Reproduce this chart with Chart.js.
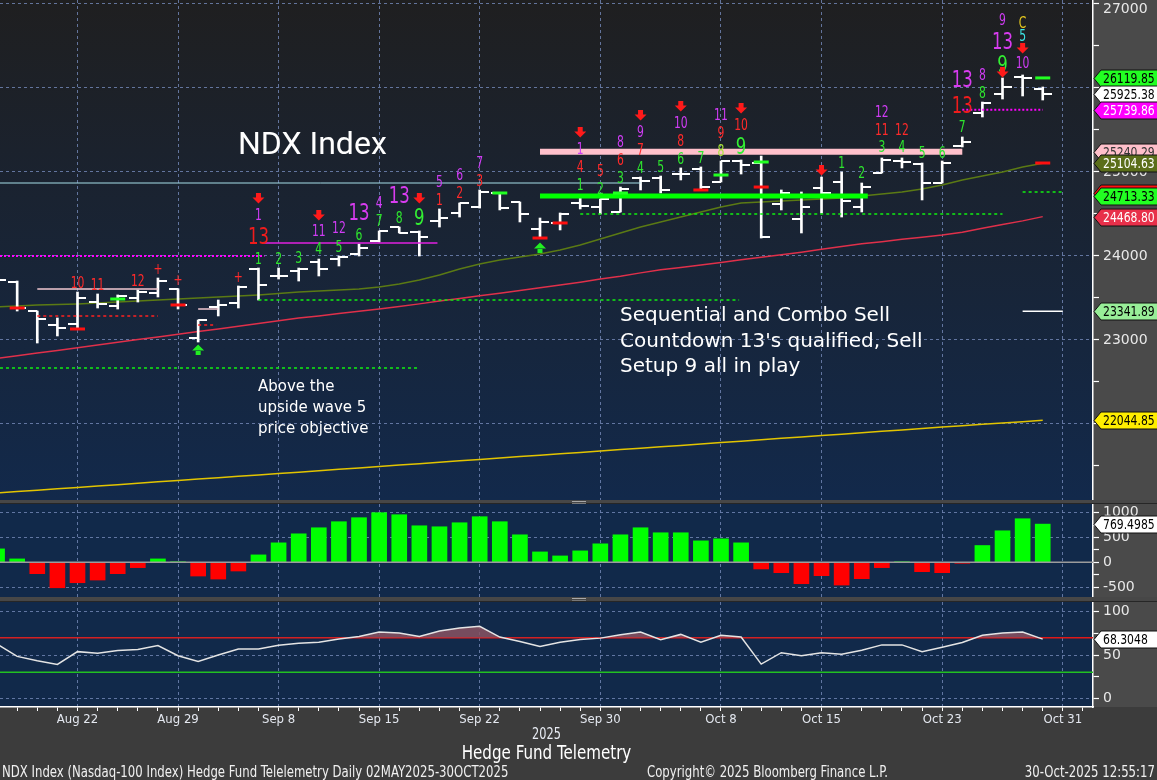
<!DOCTYPE html>
<html><head><meta charset="utf-8">
<script src="https://cdn.jsdelivr.net/npm/chart.js@4.4.1/dist/chart.umd.min.js"></script>
<style>
html,body{margin:0;padding:0;background:#3c3c3c;width:1157px;height:780px;overflow:hidden;font-family:'DejaVu Sans',sans-serif;}
.wrap{position:absolute;left:0;width:1157px;overflow:hidden;}
.wrap canvas{position:absolute;left:0;}
.sep{position:absolute;left:0;width:1157px;background:#474747;border-bottom:1px solid #262626;box-sizing:border-box;}
.handle{position:absolute;left:572px;width:14px;height:1px;background:#a8a8a8;}
.ann{position:absolute;color:#fff;white-space:nowrap;}
.narrow{font-family:'DejaVu Sans Condensed',sans-serif;position:absolute;white-space:nowrap;}
</style></head><body>

<div class="wrap" id="wA" style="top:0;height:500px;"><canvas id="cA" width="1157" height="540" style="top:-20px"></canvas>
  <div class="ann" style="left:238px;top:127px;font-family:Roboto,sans-serif;font-size:32px;line-height:32px;">NDX Index</div>
  <div class="ann" style="left:620px;top:302px;font-size:20px;line-height:25.5px;">Sequential and Combo Sell<br>Countdown 13's qualified, Sell<br>Setup 9 all in play</div>
  <div class="ann" style="left:258px;top:376px;font-size:15px;line-height:21px;">Above the<br>upside wave 5<br>price objective</div>
</div>
<div class="sep" style="top:500px;height:4px;"><div class="handle" style="top:1px"></div><div class="handle" style="top:3px;background:#777"></div></div>
<div class="wrap" id="wB" style="top:504px;height:93px;"><canvas id="cB" width="1157" height="133" style="top:-20px"></canvas></div>
<div class="sep" style="top:597px;height:5px;"><div class="handle" style="top:1px"></div><div class="handle" style="top:3px;background:#777"></div></div>
<div class="wrap" id="wC" style="top:602px;height:178px;"><canvas id="cC" width="1157" height="198" style="top:-20px"></canvas></div>

<div class="narrow" style="left:0;width:1093px;text-align:center;top:725px;font-size:15px;color:#e8ecf4;transform:scaleX(0.84);">2025</div>
<div class="narrow" style="left:0;width:1093px;text-align:center;top:740px;font-size:20px;color:#ffffff;transform:scaleX(0.84);">Hedge Fund Telemetry</div>
<div class="narrow" style="left:2px;top:763px;font-size:15px;color:#f0f0f0;transform:scaleX(0.868);transform-origin:0 0;">NDX Index (Nasdaq-100 Index) Hedge Fund Telelemetry Daily 02MAY2025-30OCT2025</div>
<div class="narrow" style="left:647px;top:763px;font-size:15px;color:#f0f0f0;transform:scaleX(0.868);transform-origin:0 0;">Copyright© 2025 Bloomberg Finance L.P.</div>
<div class="narrow" style="right:2px;top:763px;font-size:15px;color:#f0f0f0;transform:scaleX(0.868);transform-origin:100% 0;">30-Oct-2025 12:55:17</div>

<script>
// ---------------- DATA ----------------
const dates = ['Aug 18','Aug 19','Aug 20','Aug 21','Aug 22','Aug 25','Aug 26','Aug 27','Aug 28','Aug 29',
 'Sep 2','Sep 3','Sep 4','Sep 5','Sep 8','Sep 9','Sep 10','Sep 11','Sep 12','Sep 15',
 'Sep 16','Sep 17','Sep 18','Sep 19','Sep 22','Sep 23','Sep 24','Sep 25','Sep 26','Sep 29',
 'Sep 30','Oct 1','Oct 2','Oct 3','Oct 6','Oct 7','Oct 8','Oct 9','Oct 10','Oct 13',
 'Oct 14','Oct 15','Oct 16','Oct 17','Oct 20','Oct 21','Oct 22','Oct 23','Oct 24','Oct 27',
 'Oct 28','Oct 29','Oct 30'];
const open = [23700,23690,23345,23178,23190,23452,23405,23500,23560,23610,
 23024,23393,23440,23845,23762,23821,23929,23964,24024,24179,
 24345,24286,24417,24512,24583,24750,24643,24321,24393,24631,
 24583,24524,24929,24929,24976,25036,24881,25131,25107,24619,
 24440,24810,24881,24583,24988,25131,25095,24869,25310,25702,
 25929,26131,25988];
const high = [23760,23702,23345,23262,23571,23548,23536,23595,23738,23610,
 23238,23476,23643,23857,23857,23857,23964,24000,24143,24298,
 24345,24298,24560,24631,24786,24750,24643,24452,24512,24690,
 24679,24821,24940,24952,25048,25060,25131,25143,25190,24786,
 24762,24940,25000,24869,25167,25167,25107,25131,25417,25833,
 26119,26155,26012];
const low = [23650,23345,22964,23048,23131,23381,23369,23452,23512,23369,
 22976,23286,23381,23476,23726,23702,23762,23881,24000,24167,
 24274,24000,24345,24464,24571,24548,24405,24226,24310,24560,
 24500,24524,24786,24750,24905,24786,24881,24976,24214,24548,
 24274,24512,24464,24524,24988,25048,24667,24869,25298,25655,
 25869,25905,25857];
const close = [23714,23381,23250,23143,23500,23429,23524,23571,23702,23417,
 23238,23417,23631,23655,23762,23845,23845,23988,24095,24298,
 24274,24226,24452,24631,24762,24571,24500,24405,24500,24595,
 24679,24798,24893,24786,24976,24821,25131,25083,24226,24750,
 24583,24750,24655,24821,25143,25119,24869,25107,25357,25821,
 26012,26119,25925.38];
const ma20 = [23393,23405,23417,23423,23429,23440,23452,23464,23476,23488,
 23500,23512,23524,23536,23553,23571,23583,23595,23607,23631,
 23667,23714,23774,23845,23905,23952,23988,24024,24071,24131,
 24202,24274,24345,24405,24464,24524,24583,24631,24643,24655,
 24667,24678,24690,24714,24738,24762,24798,24845,24905,24952,
 25000,25060,25104.63];
const ma50 = [22781,22813,22844,22876,22908,22940,22973,23005,23036,23068,
 23100,23131,23163,23196,23229,23261,23286,23315,23342,23368,
 23399,23430,23463,23494,23526,23557,23588,23621,23655,23688,
 23726,23759,23799,23836,23864,23894,23923,23954,23984,24015,
 24045,24079,24113,24145,24171,24198,24224,24251,24284,24329,
 24374,24418,24468.80];
const ma200 = [21179,21195,21211,21228,21244,21261,21277,21294,21311,21327,
 21344,21360,21377,21394,21410,21427,21444,21460,21477,21494,
 21511,21528,21545,21562,21578,21595,21612,21629,21645,21662,
 21679,21695,21712,21729,21745,21762,21779,21795,21812,21829,
 21846,21862,21879,21896,21913,21930,21946,21963,21979,21996,
 22012,22028,22044.85];
const hist = [270,68,-230,-514,-412,-358,-230,-108,68,10,
 -277,-338,-176,149,392,574,696,818,899,1000,
 959,736,716,797,919,818,554,209,128,230,
 372,554,696,595,595,432,473,392,-135,-209,
 -432,-270,-459,-331,-108,10,-189,-209,-20,338,
 635,878,769.4985];
const rsi = [62.5,48.4,43.4,39.1,53.9,52.0,55.1,56.3,60.9,49.2,
 42.6,50.0,57.0,57.0,61.3,63.7,64.8,68.4,71.5,76.6,
 75.4,71.5,77.7,81.3,83.2,70.7,65.6,59.8,64.8,68.0,
 69.5,73.4,76.6,67.6,73.8,64.8,72.7,70.7,39.5,52.7,
 49.2,52.7,50.8,55.5,61.7,61.7,53.9,59.0,64.5,72.7,
 75.4,76.6,68.3048];
const xTickIdx = [4,9,14,19,24,30,36,41,47,53];
const xTickLabels = ['Aug 22','Aug 29','Sep 8','Sep 15','Sep 22','Sep 30','Oct 8','Oct 15','Oct 23','Oct 31'];
const priceTicks = [21500,22000,22500,23000,23500,24000,24500,25000,25500,26000,26500,27000];
const histTicks = [-500,-250,0,250,500,750,1000];
const rsiTicks = [0,25,50,75,100];
// level lines [from index, to index, value]
const levelSpans = [[0.146,32,24869],[0.146,13.3,24000],[13.2,21.9,24155],[0.146,20.9,22667],[13,36.9,23476],
 [2,8,23286],[2,8,23607],[10,11,23369],[10,10.9,23179],[29,50,24500],[51,53,24762],[48,52,25739.86],
 [51,53,23341.89],[27,48,25240.29],[27,43.3,24713.33]];
const levelKinds = ['cyan','magDot','mag','grnDot','grnDot','redDot','pink','pink','redDot','grnDot','grnDot','magDot','white','pinkThick','grnThick'];
const redMarks = [[1,23381],[4,23131],[9,23417],[27,24214],[28,24393],[35,24786],[38,24821],[52,25107]];
const greenMarks = [[6,23488],[25,24750],[31,24750],[36,24964],[38,25119],[52,26119.85]];
const sellArrows = [[13,24690],[16,24488],[21,24690],[29,25476],[32,25679],[34,25786],[37,25762],[41,25024],[51,26476]];
const buyArrows = [[10,22881],[27,24095]];
const lateArrows = [[50,26190]];
// TD counts [index, level, text, kind]
const counts = [
 [4,23678,'10','r'],[5,23655,'11','r'],[7,23702,'12','r'],[8,23845,'+','r'],[9,23714,'+','r'],[12,23750,'+','r'],
 [13,24488,'1','m'],[13,24226,'13','R'],[13,23964,'1','g'],[14,23964,'2','g'],[15,23976,'3','g'],
 [16,24298,'11','m'],[16,24083,'4','g'],[17,24333,'12','m'],[17,24107,'5','g'],
 [18,24512,'13','M'],[18,24250,'6','g'],[19,24631,'4','m'],[19,24417,'7','g'],
 [20,24714,'13','M'],[20,24452,'8','g'],[21,24452,'9','G'],
 [22,24881,'5','m'],[22,24667,'1','r'],[23,24964,'6','m'],[23,24750,'2','r'],[24,25107,'7','m'],[24,24893,'3','r'],
 [29,25274,'1','m'],[29,25059,'4','r'],[29,24845,'1','g'],[30,25012,'5','r'],[30,24798,'2','g'],
 [31,25357,'8','m'],[31,25143,'6','r'],[31,24929,'3','g'],[32,25476,'9','m'],[32,25262,'7','r'],[32,25048,'4','g'],
 [33,25059,'5','g'],[34,25583,'10','m'],[34,25369,'8','r'],[34,25155,'6','g'],[35,25167,'7','g'],
 [36,25679,'11','m'],[36,25464,'9','r'],[36,25250,'8','y'],[37,25560,'10','r'],[37,25298,'9','G'],
 [42,25107,'1','g'],[43,24988,'2','g'],[44,25714,'12','m'],[44,25500,'11','r'],[44,25298,'3','g'],
 [45,25500,'12','r'],[45,25298,'4','g'],[46,25226,'5','g'],[47,25226,'6','g'],
 [48,25536,'7','g'],[48,26095,'13','M'],[48,25786,'13','R'],[49,26155,'8','m'],[49,25940,'8','g'],
 [50,26810,'9','m'],[50,26548,'13','M'],[50,26274,'9','G'],
 [51,26774,'C','o'],[51,26619,'5','c'],[51,26298,'10','m']];
const mainTags = [26119.85,25925.38,25739.86,25240.29,25104.63,24752,24713.33,24468.80,23341.89,22044.85];
const mainTagText = ['26119.85','25925.38','25739.86','25240.29','25104.63','','24713.33','24468.80','23341.89','22044.85'];

// ---------------- STYLE ----------------
const X_MIN = 0.146, X_MAX = 54.5;
const GRID = 'rgba(112,132,178,0.85)';
const NONE = 'rgba(0,0,0,0)';
const AXIS_BG = '#4a4a4a', BOTTOM_BG = '#3c3c3c';
const COND = "'DejaVu Sans Condensed','DejaVu Sans',sans-serif";
Chart.defaults.font.family = "'DejaVu Sans', sans-serif";
Chart.defaults.animation = false;
const tagStyles = [['#22ff22','#000'],['#ffffff','#000'],['#ff00ff','#fff'],['#ffc0cb','#333'],['#5b6e1a','#fff'],
 ['#ff1010','#fff'],['#22ff22','#000'],['#e8304a','#fff'],['#98ee98','#000'],['#ffee00','#000']];
const levelStyle = {
 cyan:{c:'#a6dfe8',w:1,d:[]}, magDot:{c:'#ff00ff',w:2,d:[2,2]}, mag:{c:'#e020e0',w:1.5,d:[]},
 grnDot:{c:'#10f010',w:1.5,d:[3,3]}, redDot:{c:'#ff2020',w:1.5,d:[3,3]}, pink:{c:'#f2c8d2',w:1.5,d:[]},
 white:{c:'#ffffff',w:1.5,d:[]}, pinkThick:{c:'#ffc0cb',w:6,d:[]}, grnThick:{c:'#00ff00',w:5,d:[]}};
const countStyle = {r:['#ff2a2a',15],R:['#f01c1c',23],g:['#2ee62e',15],G:['#33f033',23],m:['#d03cf5',15],
 M:['#d83cf0',23],y:['#a8e636',15],o:['#e6c81e',15],c:['#3ce6e6',15]};

function tickImg(side){ const c=document.createElement('canvas'); c.width=18; c.height=2; const g=c.getContext('2d');
 g.fillStyle='#ffffff'; g.fillRect(side==='L'?0:9,0,9,2); return c; }
const openImg = tickImg('L'), closeImg = tickImg('R');

function narrowText(ctx, t, x, y, sx){ ctx.save(); ctx.translate(x,y); ctx.scale(sx,1); ctx.fillText(t,0,0); ctx.restore(); }

function bgPlugin(grad, bottomFill){ return { id:'bg', beforeDraw(ch){ const {ctx,chartArea:a,width,height}=ch; ctx.save();
 ctx.fillStyle=AXIS_BG; ctx.fillRect(0,0,width,height);
 if(bottomFill){ ctx.fillStyle=BOTTOM_BG; ctx.fillRect(0,a.bottom,width,height-a.bottom); }
 let f=grad[0]; if(grad.length>1){ f=ctx.createLinearGradient(0,a.top,0,a.bottom); f.addColorStop(0,grad[0]); f.addColorStop(1,grad[1]); }
 ctx.fillStyle=f; ctx.fillRect(a.left,a.top,a.right-a.left,a.bottom-a.top); ctx.restore(); } }; }

function tagPlugin(vals, texts, styles){ return { id:'tags', afterDraw(ch){ const ctx=ch.ctx, y=ch.scales.y, x0=ch.chartArea.right, W=ch.width;
 ctx.save(); ctx.font='14px '+COND; ctx.textBaseline='middle'; ctx.textAlign='left'; ctx.lineWidth=1;
 vals.forEach((v,k)=>{ const py=Math.round(y.getPixelForValue(v))+0.5;
  ctx.beginPath(); ctx.moveTo(x0+1,py); ctx.lineTo(x0+8,py-8.5); ctx.lineTo(W+2,py-8.5); ctx.lineTo(W+2,py+8.5); ctx.lineTo(x0+8,py+8.5); ctx.closePath();
  ctx.fillStyle=styles[k][0]; ctx.fill(); ctx.strokeStyle='#111'; ctx.stroke();
  ctx.fillStyle=styles[k][1]; narrowText(ctx, texts[k], x0+10, py+1, 0.86); });
 ctx.restore(); } }; }

function arrow(ctx,x,y,dir,col){ ctx.fillStyle=col; ctx.beginPath();
 if(dir>0){ ctx.rect(x-2.5,y-5,5,5); ctx.moveTo(x-6,y-0.5); ctx.lineTo(x+6,y-0.5); ctx.lineTo(x,y+5.5); }
 else { ctx.rect(x-2.5,y,5,5); ctx.moveTo(x-6,y+0.5); ctx.lineTo(x+6,y+0.5); ctx.lineTo(x,y-5.5); }
 ctx.fill(); }

const countPlugin = { id:'counts', afterDatasetsDraw(ch){ const {ctx,scales:{x,y}}=ch; ctx.save();
 ctx.textAlign='center'; ctx.textBaseline='middle';
 sellArrows.forEach(([i,v])=>arrow(ctx,x.getPixelForValue(i),y.getPixelForValue(v),1,'#ff1a1a'));
 buyArrows.forEach(([i,v])=>arrow(ctx,x.getPixelForValue(i),y.getPixelForValue(v),-1,'#22ee22'));
 counts.forEach(([i,v,t,k])=>{ const s=countStyle[k]; ctx.font=s[1]+'px '+COND; ctx.fillStyle=s[0];
  narrowText(ctx, t, x.getPixelForValue(i), y.getPixelForValue(v)+1, 0.8); });
 lateArrows.forEach(([i,v])=>arrow(ctx,x.getPixelForValue(i),y.getPixelForValue(v),1,'#ff1a1a'));
 ctx.restore(); } };

const tv = c => (c && c.tick) ? c.tick.value : NaN;

function xScale(labels){ return { type:'linear', min:X_MIN, max:X_MAX, display:true, position:'bottom', offset:false,
 afterBuildTicks:s=>{ s.ticks = labels ? dates.map((d,i)=>({value:i})).filter(t=>t.value>0).concat([{value:53},{value:54}]) : xTickIdx.map(v=>({value:v})); },
 ticks: labels ? {autoSkip:false,maxRotation:0,minRotation:0,padding:1,color:'#e4e8f0',font:{family:COND,size:13},
   callback:v=>{ const k=xTickIdx.indexOf(v); return k>=0?xTickLabels[k]:''; }} : {display:false},
 grid:{offset:false, color:c=>xTickIdx.includes(tv(c))?GRID:NONE, lineWidth:1, drawTicks:!!labels, tickLength:4, tickColor:'#ffffff', tickWidth:1},
 border: labels ? {display:true,color:'#ffffff',width:1.5,dash:[3,3]} : {display:false,dash:[3,3]},
 afterFit:s=>{ s.height = labels ? 73 : 0; } }; }

function yScale(min,max,tickVals,isMajor,isGrid,topVal){ return { position:'right', min, max, offset:false,
 afterBuildTicks:s=>{ s.ticks = tickVals.map(v=>({value:v})); },
 ticks:{color:'#e8e8e8',font:{size:14,lineHeight:0.7},padding:4,
   callback:v=>isMajor(v)?(v===topVal?['',String(v)]:String(v)):''},
 grid:{offset:false, color:c=>isGrid(tv(c))?GRID:NONE, drawTicks:true, tickLength:6, tickColor:'#ffffff', tickWidth:1.2},
 border:{color:'#ffffff',width:1.5,dash:[3,3]},
 afterFit:s=>{ s.width=64; } }; }

const baseOpts = { responsive:false, maintainAspectRatio:false, animation:false, events:[],
 plugins:{legend:{display:false},tooltip:{enabled:false}} };
const pts = arr => arr.map((v,i)=>({x:i,y:v}));
const line = (data,color,w,order,dash) => ({type:'line',data,borderColor:color,borderWidth:w,pointRadius:0,borderDash:dash||[],tension:0,order,borderCapStyle:'butt',fill:false});

// ---------------- MAIN CHART ----------------
const mainSets = [
 line(pts(ma200),'#e2c400',1.5,50), line(pts(ma50),'#e0304a',1.5,50), line(pts(ma20),'#5b7a14',1.5,50),
 {type:'bar',data:dates.map((d,i)=>({x:i,y:[low[i],high[i]]})),backgroundColor:'#ffffff',barThickness:2,order:40},
 {type:'line',data:pts(open),showLine:false,pointStyle:openImg,pointRadius:5,order:39},
 {type:'line',data:pts(close),showLine:false,pointStyle:closeImg,pointRadius:5,order:39}];
levelSpans.forEach((s,k)=>{ const st=levelStyle[levelKinds[k]];
 mainSets.push(line([{x:s[0],y:s[2]},{x:s[1],y:s[2]}],st.c,st.w,st.w>4?30:35,st.d)); });
mainSets.push({type:'line',data:redMarks.map(([i,v])=>({x:i,y:v})),showLine:false,pointStyle:'line',pointRadius:7.5,pointBorderWidth:3,pointBorderColor:'#ff1010',order:20});
mainSets.push({type:'line',data:greenMarks.map(([i,v])=>({x:i,y:v})),showLine:false,pointStyle:'line',pointRadius:7.5,pointBorderWidth:3,pointBorderColor:'#22ff22',order:20});

const lay = (b) => ({autoPadding:false, padding:{top:20,bottom:b,left:0,right:0}});

try {
new Chart(document.getElementById('cA'), { type:'line', data:{datasets:mainSets},
 options:Object.assign({}, baseOpts, { layout:lay(20),
  scales:{ x:xScale(false), y:yScale(21095.2,27047.6,priceTicks,v=>v%1000===0,v=>v%1000===0,27000) } }),
 plugins:[bgPlugin(['#1f1f20','#12294b']), countPlugin, tagPlugin(mainTags,mainTagText,tagStyles)] });
} catch(e) { console.error('A', e); }

// ---------------- HISTOGRAM ----------------
try {
new Chart(document.getElementById('cB'), { type:'line', data:{datasets:[
  line([{x:X_MIN,y:0},{x:X_MAX,y:0}],'#9c9c9c',1.5,1),
  {type:'bar',data:pts(hist),backgroundColor:hist.map(v=>v>=0?'#00ff00':'#ff0000'),barThickness:15,order:5}]},
 options:Object.assign({}, baseOpts, { layout:lay(20),
  scales:{ x:xScale(false), y:yScale(-700,1175,histTicks,v=>v%500===0,v=>v%500===0&&v!==0,null) } }),
 plugins:[bgPlugin(['#11294a']), tagPlugin([769.4985],['769.4985'],[['#ffffff','#000']])] });
} catch(e) { console.error('B', e); }

// ---------------- RSI ----------------
try {
new Chart(document.getElementById('cC'), { type:'line', data:{datasets:[
  line([{x:X_MIN,y:70},{x:X_MAX,y:70}],'#e01818',1.5,5),
  line([{x:X_MIN,y:30},{x:X_MAX,y:30}],'#22c022',1.5,5),
  Object.assign(line(pts(rsi),'#e4e4e4',1.5,1),{fill:{target:{value:70},above:'rgba(138,82,98,0.85)',below:NONE}})]},
 options:Object.assign({}, baseOpts, { layout:lay(0),
  scales:{ x:xScale(true), y:yScale(-10,111.2,rsiTicks,v=>v%50===0,v=>v%50===0,null) } }),
 plugins:[bgPlugin(['#11294a'],true), tagPlugin([68.3048],['68.3048'],[['#ffffff','#000']])] });
} catch(e) { console.error('C', e); }
</script>
</body></html>
